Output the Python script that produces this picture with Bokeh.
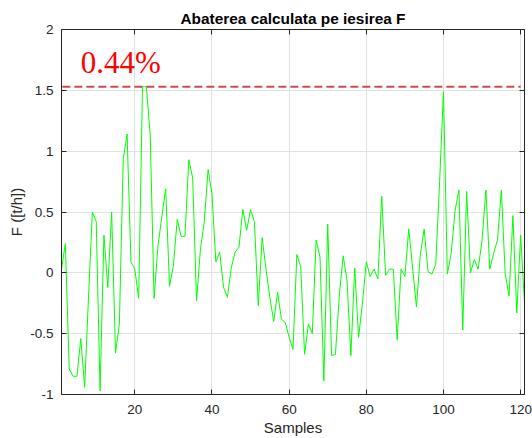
from bokeh.plotting import figure
from bokeh.models import LinearAxis, FixedTicker, Label, Range1d
from bokeh.embed import file_html
from bokeh.resources import INLINE

# ---- data ----
samples = list(range(1, 122))
abatere = [
    0.03, 0.24, -0.79, -0.85, -0.85, -0.54, -0.94, -0.20, 0.50, 0.42,
    -0.97, 0.31, -0.12, 0.50, -0.66, -0.42, 0.93, 1.14, 0.09, 0.03,
    -0.21, 1.53, 1.53, 1.13, -0.21, 0.22, 0.46, 0.69, -0.11, 0.06,
    0.44, 0.30, 0.30, 0.93, 0.78, -0.23, 0.19, 0.42, 0.85, 0.65,
    0.09, 0.17, -0.12, -0.20, 0.04, 0.17, 0.21, 0.52, 0.35, 0.52,
    0.42, -0.27, 0.29, 0.03, -0.20, -0.40, -0.16, -0.38, -0.41, -0.53,
    -0.63, 0.15, 0.05, -0.67, -0.42, -0.50, 0.27, 0.13, -0.89, 0.40,
    -0.68, -0.67, -0.19, 0.14, -0.06, -0.68, 0.04, -0.53, -0.25, 0.09,
    -0.03, 0.03, -0.05, 0.63, -0.02, 0.03, 0.03, -0.55, 0.03, -0.03,
    0.36, 0.04, -0.28, 0.15, 0.36, 0.01, -0.01, 0.07, 0.75, 1.49,
    -0.01, 0.16, 0.51, 0.68, -0.47, 0.67, 0.00, 0.11, 0.03, 0.27,
    0.68, 0.03, 0.16, 0.27, 0.68, -0.01, -0.19, 0.47, -0.33, 0.31,
    -0.25,
]
threshold_x = [-5, 120]
threshold_y = [1.53, 1.53]
threshold_text = "0.44%"

x_ticks = [20, 40, 60, 80, 100, 120]
y_ticks = [-1, -0.5, 0, 0.5, 1, 1.5, 2]
y_tick_labels = ["-1", "-0.5", "0", "0.5", "1", "1.5", "2"]

title_text = "Abaterea calculata pe iesirea F"
x_label = "Samples"
y_label = "F ([t/h])"

# ---- styling ----
FONT = "Liberation Sans"
AX = "#262626"
GRID = "#E2E2E2"

p = figure(
    width=532, height=438,
    x_range=Range1d(1, 121), y_range=Range1d(-1, 2),
    output_backend="svg", toolbar_location=None,
    min_border_left=61, min_border_right=8,
    min_border_top=29, min_border_bottom=43,
    x_axis_label=x_label, y_axis_label=y_label,
)
p.background_fill_color = "white"
p.border_fill_color = "white"
p.outline_line_color = None

p.title.text = title_text
p.title.align = "center"
p.title.text_font = FONT
p.title.text_font_size = "15.4px"
p.title.text_font_style = "bold"
p.title.text_color = "black"
p.title.standoff = 6

# grid
p.xgrid.ticker = FixedTicker(ticks=x_ticks)
p.ygrid.ticker = FixedTicker(ticks=y_ticks)
for g in (p.xgrid, p.ygrid):
    g.grid_line_color = GRID
    g.grid_line_width = 1

# bottom / left axes
xa = p.xaxis[0]
ya = p.yaxis[0]
xa.ticker = FixedTicker(ticks=x_ticks)
ya.ticker = FixedTicker(ticks=y_ticks)
ya.major_label_overrides = {t: s for t, s in zip(y_ticks, y_tick_labels)}
xa.major_label_overrides = {t: str(t) for t in x_ticks}
for ax in (xa, ya):
    ax.axis_line_color = AX
    ax.major_tick_line_color = AX
    ax.major_tick_in = 5
    ax.major_tick_out = 0
    ax.minor_tick_line_color = None
    ax.major_label_text_font = FONT
    ax.major_label_text_font_size = "13.5px"
    ax.major_label_text_color = AX
    ax.axis_label_text_font = FONT
    ax.axis_label_text_font_size = "15px"
    ax.axis_label_text_font_style = "normal"
    ax.axis_label_text_color = AX
xa.major_label_standoff = 10
xa.axis_label_standoff = 2
ya.major_label_standoff = 8
ya.axis_label_standoff = 2

# top / right box axes with inner ticks, no labels
top = LinearAxis(ticker=FixedTicker(ticks=x_ticks))
right = LinearAxis(ticker=FixedTicker(ticks=y_ticks))
for ax in (top, right):
    ax.axis_line_color = AX
    ax.major_tick_line_color = AX
    ax.major_tick_in = 5
    ax.major_tick_out = 0
    ax.minor_tick_line_color = None
    ax.major_label_text_font_size = "0px"
    ax.major_label_text_color = None
    ax.major_label_standoff = 0
    ax.axis_label = None
p.add_layout(top, "above")
p.add_layout(right, "right")

# data
p.line(samples, abatere, line_color="#00FF00", line_width=1)
p.line(threshold_x, threshold_y, line_color="#CC4C4C", line_width=2,
       line_dash="8 4")

p.add_layout(Label(
    x=6.0, y=1.73, text=threshold_text,
    text_font="Liberation Serif", text_font_size="31px",
    text_color="#FF0000", text_baseline="alphabetic",
))

open("out.html", "w").write(file_html(p, INLINE))
